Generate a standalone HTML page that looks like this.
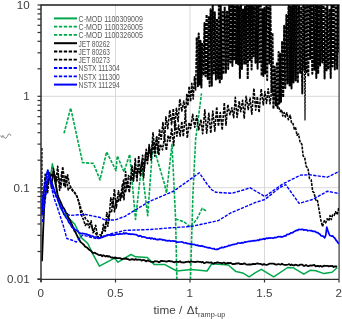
<!DOCTYPE html>
<html><head><meta charset="utf-8"><style>
html,body{margin:0;padding:0;background:#fff;}
svg{display:block;}
svg{will-change:transform;}
text{font-family:"Liberation Sans",sans-serif;}
.tl{font-size:11.6px;fill:#404040;}
.tt{font-size:11.7px;fill:#404040;}
.sub{font-size:7.3px;}
.lg{font-size:8.3px;fill:#595959;}
.yt{font-size:5px;fill:#595959;}
</style></head><body>
<svg width="342" height="319" viewBox="0 0 342 319">
<rect width="342" height="319" fill="#fff"/>
<defs><clipPath id="pc"><rect x="41" y="5" width="298" height="274"/></clipPath></defs>
<line x1="115.5" y1="5" x2="115.5" y2="279" stroke="#d9d9d9" stroke-width="1"/>
<line x1="190.0" y1="5" x2="190.0" y2="279" stroke="#d9d9d9" stroke-width="1"/>
<line x1="264.5" y1="5" x2="264.5" y2="279" stroke="#d9d9d9" stroke-width="1"/>
<line x1="339.0" y1="5" x2="339.0" y2="279" stroke="#d9d9d9" stroke-width="1"/>
<line x1="41" y1="96.3" x2="339" y2="96.3" stroke="#d9d9d9" stroke-width="1"/>
<line x1="41" y1="187.7" x2="339" y2="187.7" stroke="#d9d9d9" stroke-width="1"/>
<line x1="41" y1="5" x2="339.6" y2="5" stroke="#1a1a1a" stroke-width="1.4"/>
<line x1="339.1" y1="5" x2="339.1" y2="279" stroke="#505050" stroke-width="1.3"/>
<g clip-path="url(#pc)">
<polyline points="50.5,176.0 52.4,163.8 54.0,172.0 56.0,186.0 58.0,200.0 60.0,207.0 64.3,213.8 74.7,224.0 81.0,237.4 87.8,243.5 92.5,253.3 99.4,266.2 114.6,258.2 118.0,262.2 131.0,254.5 135.6,256.8 147.3,257.5 154.3,264.6 164.9,264.6 176.8,271.0 191.3,269.5 207.1,271.0 211.8,263.7 228.2,265.0 236.0,271.6 242.6,272.9 249.2,276.8 255.0,272.9 261.3,269.3 273.7,276.9 287.7,267.5 293.0,267.7 303.8,274.2 310.5,270.2 315.9,270.7 324.0,273.6 332.0,272.3 337.4,267.5" fill="none" stroke="#00a84c" stroke-width="1.5" stroke-linejoin="round" opacity="1"/>
<polyline points="64.0,133.3 70.7,108.0 82.6,162.6 93.3,163.4 100.0,179.9 106.6,151.9 116.0,170.6 117.3,155.9 124.0,171.9 129.7,154.3 135.5,219.4 141.5,166.0 147.7,215.7 153.2,139.4 156.4,156.7 164.5,184.0 166.5,193.0 172.0,144.4 175.6,219.0 177.0,285.0 190.3,285.0 192.9,195.0 195.6,139.6 201.5,93.4" fill="none" stroke="#00a84c" stroke-width="1.6" stroke-dasharray="3.2 1.3" stroke-linejoin="round" opacity="1"/>
<polyline points="175.6,219.0 183.6,221.6 190.3,226.9 196.9,219.0 202.2,208.3 206.2,211.0" fill="none" stroke="#00a84c" stroke-width="1.6" stroke-dasharray="3.2 1.3" stroke-linejoin="round" opacity="1"/>
<polyline points="42.0,261.2 43.2,229.8 44.4,202.5 45.6,192.4 46.8,185.3 48.0,181.5 49.2,178.2 50.4,176.6 51.6,174.8 52.8,174.1 54.0,174.4 55.2,181.0 56.4,187.9 57.6,194.5 58.8,198.2 60.0,200.6 61.2,203.4 62.4,206.2 63.6,207.9 64.8,209.9 66.0,213.0 67.2,214.0 68.4,217.8 69.6,219.6 70.8,222.1 72.0,224.7 73.2,227.5 74.4,230.9 75.6,232.4 76.8,235.2 78.0,237.5 79.2,239.4 80.4,241.9 81.6,242.9 82.8,243.8 84.0,245.0 85.2,246.6 86.4,247.3 87.6,248.1 88.8,249.4 90.0,250.2 91.2,251.0 92.4,252.6 93.6,253.0 94.8,252.7 96.0,253.6 97.2,254.0 98.4,254.9 99.6,255.1 100.8,254.9 102.0,256.2 103.2,255.2 104.4,255.8 105.6,256.5 106.8,255.9 108.0,256.6 109.2,256.1 110.4,257.2 111.6,257.6 112.8,257.5 114.0,258.1 115.2,257.4 116.4,258.1 117.6,258.1 118.8,258.2 120.0,258.1 121.2,258.8 122.4,259.0 123.6,258.5 124.8,258.9 126.0,258.2 127.2,259.2 128.4,259.2 129.6,259.9 130.8,259.7 132.0,259.1 133.2,259.4 134.4,259.9 135.6,259.1 136.8,259.8 138.0,259.6 139.2,259.6 140.4,259.6 141.6,260.7 142.8,260.0 144.0,260.2 145.2,260.6 146.4,261.4 147.6,260.4 148.8,261.0 150.0,261.3 151.2,261.8 152.4,261.9 153.6,262.0 154.8,261.2 156.0,261.4 157.2,261.3 158.4,262.0 159.6,262.1 160.8,261.0 162.0,261.0 163.2,261.1 164.4,261.1 165.6,261.5 166.8,261.6 168.0,261.2 169.2,260.8 170.4,261.4 171.6,261.4 172.8,261.7 174.0,262.3 175.2,261.9 176.4,261.7 177.6,261.9 178.8,262.0 180.0,261.2 181.2,262.4 182.4,262.3 183.6,262.5 184.8,262.4 186.0,261.9 187.2,261.9 188.4,261.5 189.6,262.3 190.8,261.5 192.0,261.6 193.2,261.8 194.4,261.8 195.6,262.1 196.8,261.7 198.0,261.7 199.2,261.9 200.4,261.9 201.6,262.3 202.8,261.9 204.0,263.1 205.2,262.8 206.4,262.2 207.6,262.3 208.8,262.5 210.0,262.6 211.2,262.3 212.4,263.3 213.6,263.6 214.8,262.9 216.0,262.9 217.2,262.4 218.4,262.5 219.6,262.9 220.8,262.8 222.0,263.6 223.2,262.7 224.4,262.6 225.6,263.9 226.8,263.3 228.0,262.8 229.2,263.4 230.4,262.8 231.6,263.5 232.8,264.2 234.0,264.0 235.2,263.8 236.4,263.3 237.6,263.5 238.8,263.2 240.0,264.1 241.2,263.8 242.4,264.2 243.6,263.6 244.8,263.5 246.0,264.4 247.2,264.6 248.4,264.5 249.6,264.5 250.8,264.5 252.0,264.4 253.2,263.8 254.4,264.2 255.6,264.0 256.8,263.5 258.0,263.5 259.2,263.9 260.4,263.8 261.6,264.4 262.8,264.8 264.0,264.0 265.2,264.7 266.4,264.8 267.6,264.7 268.8,263.9 270.0,263.7 271.2,263.7 272.4,263.6 273.6,263.6 274.8,264.2 276.0,264.6 277.2,264.5 278.4,264.0 279.6,264.3 280.8,264.6 282.0,263.7 283.2,264.5 284.4,264.9 285.6,264.8 286.8,264.8 288.0,264.5 289.2,264.1 290.4,265.1 291.6,264.5 292.8,265.2 294.0,265.5 295.2,264.7 296.4,264.8 297.6,265.6 298.8,265.4 300.0,264.7 301.2,264.7 302.4,264.7 303.6,265.9 304.8,265.8 306.0,264.9 307.2,265.9 308.4,266.1 309.6,265.7 310.8,265.4 312.0,265.7 313.2,265.1 314.4,265.0 315.6,266.4 316.8,266.0 318.0,265.9 319.2,266.5 320.4,265.8 321.6,266.5 322.8,266.5 324.0,265.7 325.2,265.8 326.4,265.9 327.6,265.8 328.8,266.4 330.0,266.0 331.2,266.2 332.4,265.9 333.6,267.0 334.8,266.3 336.0,266.5 337.2,266.7" fill="none" stroke="#000000" stroke-width="1.8" stroke-linejoin="round" opacity="1"/>
<polyline points="45.0,173.6 47.3,191.0 49.4,172.7 51.7,183.1 53.9,171.0 56.4,181.8 58.4,176.2 60.9,187.6 62.7,166.7 65.3,186.8 67.6,174.7 69.3,184.2 71.2,187.8 73.0,190.5 74.9,192.7 77.2,196.8 79.3,203.2 81.4,210.1 83.3,214.0 85.7,218.8 87.8,220.9 89.6,223.8 91.3,225.8 93.2,230.2 95.1,232.5 97.4,236.3 99.1,237.9 100.9,237.6 102.6,230.2 104.5,230.5 106.2,220.8 107.9,226.3 109.8,211.4 111.5,212.5 112.9,199.2 114.5,211.8 116.3,199.2 118.2,202.2 120.1,193.6 121.9,197.3 123.5,180.0 125.5,192.7 127.6,180.8 129.3,192.5 131.2,176.7 133.4,181.1 135.0,165.0 136.7,178.2 138.2,168.5 140.0,173.8 141.9,160.8 143.7,177.8 145.5,153.7 147.5,163.7 149.1,144.5 151.1,160.1 152.7,142.6 154.8,156.1 156.9,137.0 158.8,155.2 160.3,144.1 162.5,149.8 164.4,137.7 166.4,150.5 168.1,135.3 170.0,141.2 171.7,128.2 173.7,145.6 175.3,121.3 176.9,136.2 178.6,125.1 180.1,136.2 181.8,121.4 183.3,136.5 185.4,114.0 187.3,138.1 189.1,122.5 190.6,128.5 192.7,114.3 194.8,127.2 196.7,115.7 198.7,129.8 200.9,119.6 202.7,133.8 204.8,109.9 206.7,133.2 208.8,113.3 210.8,133.1 212.8,111.0 214.8,131.1 216.7,106.9 218.4,126.2 220.3,112.5 222.2,130.0 224.3,102.7 226.0,125.1 227.8,104.6 229.9,114.7 231.9,107.7 233.7,117.7 235.3,97.4 237.1,117.5 239.2,101.0 240.7,111.7 242.6,100.4 244.2,118.1 246.1,96.3 248.2,109.5 250.1,98.0 251.8,114.1 253.9,88.4 255.7,110.1 257.3,96.7 259.1,112.5 261.2,89.0 263.3,104.8 264.9,91.5 266.5,103.4 268.2,88.8 270.0,103.8 272.1,87.3 273.8,100.5 275.3,92.7 276.8,106.0 278.6,106.9 280.3,111.6 281.6,109.7 282.8,116.0 284.1,112.5 285.4,117.0 286.8,112.8 288.4,119.7 290.2,115.3 291.5,122.7 292.8,122.7 294.3,129.0 295.6,127.8 297.0,135.3 298.5,134.0 300.2,142.5 301.9,144.3 303.1,155.7 304.8,158.2 306.2,166.4 308.0,168.4 309.5,178.7 311.2,179.9 312.7,191.5 314.0,192.6 315.7,199.9 317.3,199.5 319.1,210.0 320.8,219.9 322.5,226.5 324.3,220.8 325.7,222.8 327.1,218.8 328.8,220.9 330.0,215.6 331.3,219.6 332.6,214.7 334.2,215.3 335.5,211.7 337.2,214.6 338.8,207.8" fill="none" stroke="#000000" stroke-width="1.6" stroke-dasharray="2.8 1.1" stroke-linejoin="round" opacity="1"/>
<polyline points="41.8,148.0 42.0,215.0 43.0,200.0 45.0,177.0 47.6,192.7 49.4,173.0 51.6,188.4 53.4,168.3 55.6,184.7 57.7,166.3 59.6,190.5 61.7,172.1 64.1,186.4 65.9,175.3 68.2,189.9 70.5,187.5 72.6,190.9 74.7,192.9 77.0,196.6 78.9,202.1 81.2,214.8 83.4,219.5 85.3,225.4 87.4,222.9 89.3,227.7 91.1,220.8 93.1,232.8 95.6,225.2 97.7,237.2 99.7,234.9 102.0,235.0 103.4,224.2 105.3,231.1 106.8,212.6 108.8,220.5 110.8,197.9 112.8,206.4 114.4,189.0 116.3,208.0 118.4,190.9 120.4,200.5 122.4,183.6 124.0,199.8 125.6,171.5 127.0,188.7 128.5,175.5 130.5,180.1 132.0,165.9 133.4,180.7 135.3,158.5 137.0,180.9 138.7,155.7 140.6,175.6 142.6,155.2 144.2,169.7 146.2,149.4 147.7,159.4 149.3,146.1 151.1,157.6 153.0,132.8 154.8,150.0 156.5,137.1 158.0,153.2 159.5,129.2 161.2,139.3 162.9,122.5 164.6,139.9 165.9,116.8 167.8,128.6 169.8,110.1 171.6,124.6 173.3,108.6 174.7,127.6 176.4,108.2 178.1,121.6 179.8,99.0 181.8,111.0 183.8,101.1 185.5,115.0 186.8,93.8 187.9,105.8 189.1,86.3 190.6,101.6 191.8,83.4 193.2,99.0 194.5,76.8 195.6,90.0 196.7,37.6" fill="none" stroke="#000000" stroke-width="1.6" stroke-dasharray="2.8 1.1" stroke-linejoin="round" opacity="1"/>
<polyline points="196.7,37.6 196.7,37.6 197.9,86.2 198.7,33.6 199.6,84.6 200.5,40.8 201.4,87.4 202.3,42.9 203.4,75.5 204.5,22.9 205.5,76.2 206.6,14.4 207.7,79.1 208.8,16.1 209.6,86.2 210.6,9.2 211.8,85.7 212.7,2.2 213.8,73.5 214.8,12.2 215.9,79.6 217.0,18.7 218.1,79.4 219.0,-2.2 219.8,83.4 220.7,3.7 221.7,79.1 222.7,12.0 223.6,74.2 224.7,6.8 225.9,72.8 227.0,10.8 228.2,68.9 229.2,5.7 230.3,62.5 231.3,4.5 232.4,66.1 233.3,-1.9 234.1,60.5 235.0,6.5 236.1,63.3 237.0,-3.7 238.1,64.3 238.9,6.4 239.9,78.1 241.0,2.5 241.9,69.0 243.1,9.6 244.2,64.6 245.0,6.8 245.9,63.6 246.8,-9.3 247.7,79.2 248.8,4.2 249.9,61.1 250.8,2.0 251.6,69.5 252.6,0.8 253.4,56.2 254.4,-7.1 255.5,62.7 256.5,5.0 257.6,68.7 258.5,-3.1 259.6,62.1 260.6,-0.1 261.6,75.9 262.5,9.3 263.3,76.0 264.3,8.0 265.2,73.6 266.4,3.3 267.2,79.9 268.4,-7.8 269.5,63.4 270.4,5.9 271.5,92.2 272.5,32.8 273.4,108.9 274.6,66.8 275.8,105.3 276.9,62.1 277.7,107.9 278.6,51.9 279.4,103.4 280.2,53.8 281.0,101.8 282.1,41.2 283.2,97.4 284.2,25.8 285.3,88.0 286.4,15.1 287.5,83.5 288.7,-8.4 289.6,85.4 290.7,6.6 291.5,88.6 292.7,-7.1 293.5,82.5 294.7,2.3 295.7,80.4 296.8,0.4 297.8,83.0 299.0,6.0 300.1,73.7 301.2,6.5 302.3,93.5 303.4,-7.4 304.4,69.6 305.3,0.0 306.5,73.5 307.3,-5.0 308.3,76.8 309.3,-6.8 310.3,58.9 311.1,1.9 312.3,73.7 313.4,-6.9 314.4,69.8 315.5,-1.1 316.3,78.0 317.2,4.8 318.2,73.8 319.2,-8.2 320.1,65.4 321.3,-1.9 322.3,62.5 323.4,-6.5 324.6,78.4 325.4,7.2 326.5,71.4 327.3,4.7 328.4,69.5 329.6,8.9 330.7,77.9 331.5,-4.0 332.5,66.6 333.7,2.7 334.8,69.4 336.0,-2.0 337.1,68.8 338.0,-3.2 338.9,52.3" fill="none" stroke="#000000" stroke-width="2.0" stroke-dasharray="3 1.0" stroke-linejoin="round" opacity="1"/>
<polyline points="304.5,60.0 305.0,120.0 305.5,62.0" fill="none" stroke="#000000" stroke-width="1.2" stroke-dasharray="2.4 1.1" stroke-linejoin="round" opacity="1"/>
<polyline points="41.8,208.1 42.8,200.1 43.8,191.9 44.8,185.6 45.8,179.3 46.8,173.5 47.8,170.1 48.8,173.6 49.8,177.1 50.8,179.8 51.8,183.1 52.8,185.3 53.8,188.6 54.8,191.4 55.8,194.7 56.8,197.2 57.8,199.1 58.8,201.7 59.8,204.2 60.8,207.2 61.8,209.5 62.8,211.3 63.8,214.3 64.8,215.2 65.8,217.3 66.8,218.4 67.8,219.9 68.8,222.4 69.8,223.4 70.8,225.0 71.8,227.1 72.8,227.8 73.8,228.0 74.8,229.5 75.8,229.8 76.8,230.7 77.8,231.0 78.8,232.6 79.8,232.9 80.8,233.5 81.8,233.7 82.8,233.3 83.8,233.7 84.8,233.8 85.8,234.0 86.8,234.2 87.8,234.7 88.8,235.3 89.8,235.0 90.8,236.0 91.8,236.0 92.8,236.2 93.8,237.0 94.8,237.0 95.8,237.1 96.8,237.6 97.8,238.1 98.8,237.8 99.8,238.3 100.8,237.1 101.8,237.4 102.8,237.2 103.8,236.1 104.8,236.5 105.8,235.7 106.8,235.7 107.8,235.0 108.8,234.9 109.8,234.9 110.8,235.5 111.8,234.6 112.8,235.1 113.8,235.1 114.8,235.0 115.8,234.2 116.8,234.1 117.8,234.2 118.8,234.3 119.8,233.5 120.8,234.1 121.8,234.0 122.8,233.9 123.8,233.0 124.8,233.8 125.8,233.0 126.8,233.4 127.8,233.7 128.8,234.2 129.8,233.7 130.8,234.4 131.8,234.2 132.8,234.1 133.8,234.3 134.8,234.5 135.8,234.6 136.8,234.9 137.8,235.7 138.8,236.3 139.8,235.7 140.8,235.8 141.8,237.0 142.8,236.8 143.8,236.9 144.8,237.0 145.8,237.6 146.8,238.1 147.8,238.0 148.8,238.1 149.8,237.8 150.8,238.8 151.8,238.0 152.8,238.6 153.8,239.1 154.8,238.5 155.8,239.2 156.8,239.6 157.8,239.4 158.8,239.6 159.8,239.1 160.8,239.5 161.8,239.4 162.8,240.2 163.8,239.8 164.8,240.0 165.8,240.7 166.8,240.7 167.8,240.9 168.8,240.6 169.8,240.7 170.8,241.1 171.8,241.0 172.8,240.9 173.8,241.2 174.8,241.0 175.8,241.4 176.8,242.1 177.8,242.2 178.8,242.0 179.8,242.0 180.8,242.0 181.8,241.9 182.8,242.2 183.8,242.8 184.8,243.0 185.8,242.7 186.8,243.4 187.8,243.6 188.8,243.7 189.8,243.9 190.8,244.2 191.8,244.0 192.8,244.5 193.8,244.3 194.8,244.7 195.8,245.2 196.8,245.3 197.8,245.1 198.8,246.0 199.8,245.9 200.8,246.1 201.8,245.7 202.8,246.4 203.8,246.4 204.8,247.0 205.8,247.0 206.8,247.5 207.8,247.6 208.8,247.9 209.8,247.7 210.8,248.2 211.8,248.5 212.8,248.8 213.8,248.5 214.8,249.2 215.8,249.5 216.8,249.2 217.8,249.3 218.8,248.9 219.8,248.2 220.8,248.0 221.8,247.3 222.8,247.7 223.8,247.5 224.8,246.8 225.8,246.7 226.8,246.5 227.8,246.2 228.8,245.3 229.8,245.7 230.8,245.2 231.8,245.0 232.8,244.5 233.8,244.4 234.8,244.3 235.8,244.0 236.8,243.9 237.8,243.0 238.8,243.0 239.8,243.1 240.8,243.2 241.8,242.6 242.8,242.9 243.8,242.7 244.8,241.9 245.8,242.2 246.8,241.8 247.8,241.5 248.8,241.4 249.8,241.4 250.8,241.1 251.8,241.0 252.8,240.7 253.8,240.9 254.8,240.6 255.8,240.7 256.8,240.5 257.8,239.9 258.8,240.4 259.8,239.3 260.8,239.6 261.8,239.3 262.8,239.2 263.8,238.7 264.8,239.3 265.8,238.6 266.8,238.1 267.8,238.6 268.8,237.9 269.8,238.2 270.8,237.9 271.8,238.0 272.8,238.2 273.8,237.9 274.8,237.4 275.8,237.6 276.8,237.3 277.8,236.9 278.8,236.5 279.8,236.8 280.8,236.7 281.8,236.9 282.8,236.8 283.8,236.3 284.8,235.9 285.8,236.0 286.8,234.6 287.8,234.3 288.8,234.3 289.8,233.8 290.8,232.9 291.8,232.9 292.8,232.7 293.8,231.7 294.8,231.3 295.8,230.6 296.8,230.2 297.8,230.4 298.8,229.4 299.8,229.5 300.8,229.6 301.8,229.4 302.8,229.3 303.8,230.2 304.8,229.8 305.8,229.9 306.8,230.0 307.8,230.8 308.8,230.5 309.8,230.5 310.8,230.8 311.8,230.6 312.8,231.3 313.8,231.3 314.8,231.3 315.8,232.0 316.8,232.6 317.8,232.5 318.8,233.6 319.8,234.0 320.8,235.4 321.8,235.9 322.8,236.0 323.8,236.9 324.8,237.8 325.8,235.0 326.8,227.2 327.8,230.5 328.8,233.4 329.8,235.5 330.8,235.8 331.8,236.2 332.8,235.9 333.8,237.3 334.8,238.2 335.8,239.9 336.8,241.1 337.8,242.4 338.8,244.0" fill="none" stroke="#0000ff" stroke-width="1.7" stroke-linejoin="round" opacity="1"/>
<polyline points="42.0,215.0 45.0,192.0 48.0,172.0 53.0,190.0 60.0,205.0 66.8,213.8 70.0,215.4 85.0,214.4 100.0,217.5 105.1,220.0 115.0,220.0 125.0,216.3 149.5,201.3 173.9,191.0 199.3,172.8 207.0,184.0 212.0,190.0 216.0,192.3 232.0,193.3 245.0,189.5 249.9,187.7 264.9,196.5 282.7,184.0 300.6,175.1 309.5,174.8 327.4,177.2 339.3,171.3" fill="none" stroke="#0000ff" stroke-width="1.4" stroke-dasharray="3.2 1.3" stroke-linejoin="round" opacity="1"/>
<polyline points="42.5,222.0 45.5,198.0 48.5,175.0 54.0,198.0 57.4,207.5 60.5,217.0 63.7,227.0 66.8,238.5 71.5,240.0 76.2,242.0 82.5,235.1 97.6,238.9 110.0,234.0 125.0,230.4 149.5,229.5 173.9,227.6 191.8,226.4 218.6,220.5 230.6,213.0 255.0,202.6 264.9,199.5 279.8,187.6 285.7,184.6 299.1,203.4 312.5,199.5 327.4,191.2 339.3,193.6" fill="none" stroke="#0000ff" stroke-width="1.4" stroke-dasharray="3.2 1.3" stroke-linejoin="round" opacity="1"/>
</g>
<line x1="41" y1="4.5" x2="41" y2="282" stroke="#303030" stroke-width="1.5"/>
<line x1="37.5" y1="279.3" x2="339" y2="279.3" stroke="#303030" stroke-width="1.3"/>
<line x1="37.5" y1="279.0" x2="41" y2="279.0" stroke="#303030" stroke-width="1.2"/>
<line x1="37.5" y1="251.5" x2="41" y2="251.5" stroke="#303030" stroke-width="1.2"/>
<line x1="37.5" y1="235.4" x2="41" y2="235.4" stroke="#303030" stroke-width="1.2"/>
<line x1="37.5" y1="224.0" x2="41" y2="224.0" stroke="#303030" stroke-width="1.2"/>
<line x1="37.5" y1="215.2" x2="41" y2="215.2" stroke="#303030" stroke-width="1.2"/>
<line x1="37.5" y1="207.9" x2="41" y2="207.9" stroke="#303030" stroke-width="1.2"/>
<line x1="37.5" y1="201.8" x2="41" y2="201.8" stroke="#303030" stroke-width="1.2"/>
<line x1="37.5" y1="196.5" x2="41" y2="196.5" stroke="#303030" stroke-width="1.2"/>
<line x1="37.5" y1="191.8" x2="41" y2="191.8" stroke="#303030" stroke-width="1.2"/>
<line x1="37.5" y1="187.7" x2="41" y2="187.7" stroke="#303030" stroke-width="1.2"/>
<line x1="37.5" y1="160.2" x2="41" y2="160.2" stroke="#303030" stroke-width="1.2"/>
<line x1="37.5" y1="144.1" x2="41" y2="144.1" stroke="#303030" stroke-width="1.2"/>
<line x1="37.5" y1="132.7" x2="41" y2="132.7" stroke="#303030" stroke-width="1.2"/>
<line x1="37.5" y1="123.8" x2="41" y2="123.8" stroke="#303030" stroke-width="1.2"/>
<line x1="37.5" y1="116.6" x2="41" y2="116.6" stroke="#303030" stroke-width="1.2"/>
<line x1="37.5" y1="110.5" x2="41" y2="110.5" stroke="#303030" stroke-width="1.2"/>
<line x1="37.5" y1="105.2" x2="41" y2="105.2" stroke="#303030" stroke-width="1.2"/>
<line x1="37.5" y1="100.5" x2="41" y2="100.5" stroke="#303030" stroke-width="1.2"/>
<line x1="37.5" y1="96.3" x2="41" y2="96.3" stroke="#303030" stroke-width="1.2"/>
<line x1="37.5" y1="68.8" x2="41" y2="68.8" stroke="#303030" stroke-width="1.2"/>
<line x1="37.5" y1="52.8" x2="41" y2="52.8" stroke="#303030" stroke-width="1.2"/>
<line x1="37.5" y1="41.3" x2="41" y2="41.3" stroke="#303030" stroke-width="1.2"/>
<line x1="37.5" y1="32.5" x2="41" y2="32.5" stroke="#303030" stroke-width="1.2"/>
<line x1="37.5" y1="25.3" x2="41" y2="25.3" stroke="#303030" stroke-width="1.2"/>
<line x1="37.5" y1="19.1" x2="41" y2="19.1" stroke="#303030" stroke-width="1.2"/>
<line x1="37.5" y1="13.9" x2="41" y2="13.9" stroke="#303030" stroke-width="1.2"/>
<line x1="37.5" y1="9.2" x2="41" y2="9.2" stroke="#303030" stroke-width="1.2"/>
<line x1="37.5" y1="5.0" x2="41" y2="5.0" stroke="#303030" stroke-width="1.2"/>
<line x1="41.0" y1="279" x2="41.0" y2="282.5" stroke="#303030" stroke-width="1.2"/>
<line x1="115.5" y1="279" x2="115.5" y2="282.5" stroke="#303030" stroke-width="1.2"/>
<line x1="190.0" y1="279" x2="190.0" y2="282.5" stroke="#303030" stroke-width="1.2"/>
<line x1="264.5" y1="279" x2="264.5" y2="282.5" stroke="#303030" stroke-width="1.2"/>
<line x1="339.0" y1="279" x2="339.0" y2="282.5" stroke="#303030" stroke-width="1.2"/>
<text x="29.6" y="8.9" text-anchor="end" class="tl">10</text>
<text x="29.6" y="100.2" text-anchor="end" class="tl">1</text>
<text x="29.6" y="191.6" text-anchor="end" class="tl">0.1</text>
<text x="29.6" y="282.9" text-anchor="end" class="tl">0.01</text>
<text x="40.8" y="297.2" text-anchor="middle" class="tl">0</text>
<text x="115.3" y="297.2" text-anchor="middle" class="tl">0.5</text>
<text x="189.8" y="297.2" text-anchor="middle" class="tl">1</text>
<text x="264.3" y="297.2" text-anchor="middle" class="tl">1.5</text>
<text x="338.8" y="297.2" text-anchor="middle" class="tl">2</text>
<text x="153.6" y="314.3" class="tt">time /<tspan dx="1.4"> Δt</tspan><tspan class="sub" dy="2.3" dx="0.2">ramp-up</tspan></text>
<polyline points="0.5,135.5 1.8,137.6 3,135.3 4.2,137.8 6,138.2 7.4,136.4 8.4,134.2 9.8,134 11,135.8" fill="none" stroke="#7f7f7f" stroke-width="0.9"/>
<line x1="54" y1="18.4" x2="77" y2="18.4" stroke="#00a84c" stroke-width="2"/>
<text x="78.6" y="21.7" class="lg" textLength="64.2" lengthAdjust="spacingAndGlyphs">C-MOD 1100309009</text>
<line x1="54" y1="26.7" x2="77" y2="26.7" stroke="#00a84c" stroke-width="1.8" stroke-dasharray="3.3 1.6"/>
<text x="78.6" y="30.0" class="lg" textLength="64.2" lengthAdjust="spacingAndGlyphs">C-MOD 1100326005</text>
<line x1="54" y1="34.9" x2="77" y2="34.9" stroke="#00a84c" stroke-width="1.8" stroke-dasharray="3.3 1.6"/>
<text x="78.6" y="38.2" class="lg" textLength="64.2" lengthAdjust="spacingAndGlyphs">C-MOD 1100326005</text>
<line x1="54" y1="43.2" x2="77" y2="43.2" stroke="#000000" stroke-width="2"/>
<text x="78.6" y="46.5" class="lg" textLength="31.4" lengthAdjust="spacingAndGlyphs">JET 80262</text>
<line x1="54" y1="51.5" x2="77" y2="51.5" stroke="#000000" stroke-width="1.8" stroke-dasharray="3.3 1.6"/>
<text x="78.6" y="54.8" class="lg" textLength="31.4" lengthAdjust="spacingAndGlyphs">JET 80263</text>
<line x1="54" y1="59.7" x2="77" y2="59.7" stroke="#000000" stroke-width="1.8" stroke-dasharray="3.3 1.6"/>
<text x="78.6" y="63.0" class="lg" textLength="31.4" lengthAdjust="spacingAndGlyphs">JET 80273</text>
<line x1="54" y1="68.0" x2="77" y2="68.0" stroke="#0000ff" stroke-width="1.8" stroke-dasharray="3.3 1.6"/>
<text x="78.6" y="71.3" class="lg" textLength="41.1" lengthAdjust="spacingAndGlyphs">NSTX 111304</text>
<line x1="54" y1="76.3" x2="77" y2="76.3" stroke="#0000ff" stroke-width="1.8" stroke-dasharray="3.3 1.6"/>
<text x="78.6" y="79.6" class="lg" textLength="41.1" lengthAdjust="spacingAndGlyphs">NSTX 111300</text>
<line x1="54" y1="84.6" x2="77" y2="84.6" stroke="#0000ff" stroke-width="2"/>
<text x="78.6" y="87.9" class="lg" textLength="41.1" lengthAdjust="spacingAndGlyphs">NSTX 111294</text>
</svg>
</body></html>
